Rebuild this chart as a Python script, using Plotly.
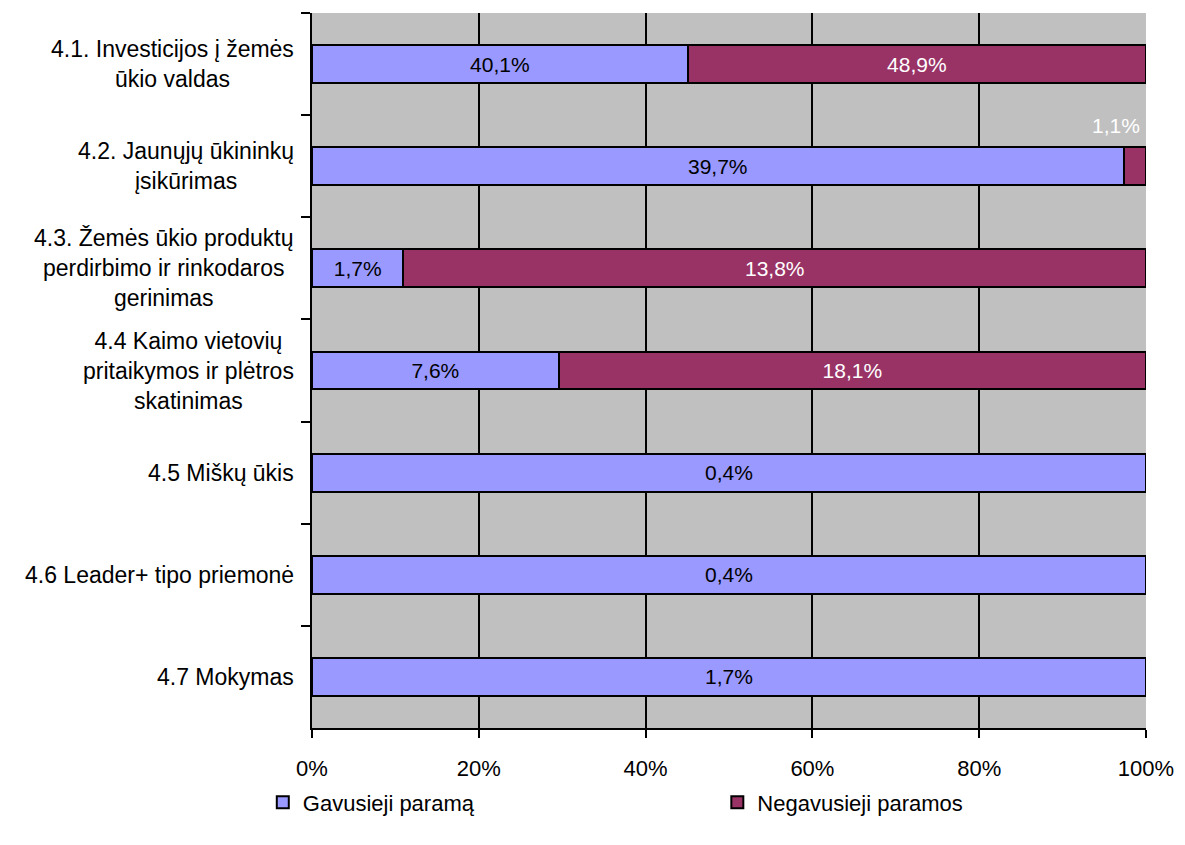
import plotly.graph_objects as go

categories = [
    "4.1. Investicijos į žemės<br>ūkio valdas",
    "4.2. Jaunųjų ūkininkų<br>įsikūrimas",
    "4.3. Žemės ūkio produktų<br>perdirbimo ir rinkodaros<br>gerinimas",
    "4.4 Kaimo vietovių<br>pritaikymos ir plėtros<br>skatinimas",
    "4.5 Miškų ūkis",
    "4.6 Leader+ tipo priemonė",
    "4.7 Mokymas",
]
gavusieji = [40.1, 39.7, 1.7, 7.6, 0.4, 0.4, 1.7]
negavusieji = [48.9, 1.1, 13.8, 18.1, 0.0, 0.0, 0.0]
series_names = ["Gavusieji paramą", "Negavusieji paramos"]
x_ticks = [0, 20, 40, 60, 80, 100]
x_tick_labels = ["0%", "20%", "40%", "60%", "80%", "100%"]

FONT = "Liberation Sans, Arial, sans-serif"
BLUE = "#9999FF"
MAROON = "#993366"


def fmt(v):
    return f"{v:.1f}%".replace(".", ",")


text_g = [fmt(v) if v > 0 else "" for v in gavusieji]
# labels that do not fit inside their segment are drawn above it
totals = [g + n for g, n in zip(gavusieji, negavusieji)]
small_n = [n > 0 and n / t < 0.05 for n, t in zip(negavusieji, totals)]
text_n = [fmt(v) if (v > 0 and not s) else "" for v, s in zip(negavusieji, small_n)]

fig = go.Figure()
fig.add_trace(go.Bar(
    y=categories, x=gavusieji, orientation="h", name=series_names[0],
    marker=dict(color=BLUE, line=dict(color="black", width=2)),
    text=text_g, textposition="inside", insidetextanchor="middle",
    textangle=0, constraintext="none",
    textfont=dict(color="black", size=21, family=FONT),
    legend="legend",
))
fig.add_trace(go.Bar(
    y=categories, x=negavusieji, orientation="h", name=series_names[1],
    marker=dict(color=MAROON, line=dict(color="black", width=2)),
    text=text_n, textposition="inside", insidetextanchor="middle",
    textangle=0, constraintext="none",
    textfont=dict(color="white", size=21, family=FONT),
    legend="legend2",
))

annotations = []
for cat, v, s in zip(categories, negavusieji, small_n):
    if s:
        annotations.append(dict(
            x=100, y=cat, xref="x", yref="y", text=fmt(v), showarrow=False,
            xanchor="right", yanchor="middle", yshift=41, xshift=-4,
            font=dict(color="white", size=21, family=FONT),
        ))
for cat in categories:
    annotations.append(dict(
        x=0, y=cat, xref="paper", yref="y", text=cat, showarrow=False,
        xanchor="right", yanchor="middle", xshift=-16, align="center",
        font=dict(color="black", size=23, family=FONT),
    ))

legend_common = dict(
    orientation="h", y=-0.104, xanchor="left", yanchor="middle",
    itemwidth=30, font=dict(size=22, family=FONT, color="black"),
    bgcolor="rgba(0,0,0,0)",
)

fig.update_layout(
    barmode="stack", barnorm="percent", bargap=0.63,
    width=1185, height=845,
    margin=dict(l=304, r=47, t=5, b=125),
    paper_bgcolor="white", plot_bgcolor="#C0C0C0",
    font=dict(family=FONT, size=20, color="black"),
    showlegend=True,
    legend=dict(x=-0.059, **legend_common),
    legend2=dict(x=0.486, **legend_common),
    annotations=annotations,
)
fig.update_xaxes(
    range=[0, 100], tickvals=x_ticks, ticktext=x_tick_labels,
    showgrid=True, gridcolor="black", gridwidth=1.5,
    showline=True, linecolor="black", linewidth=2,
    ticks="outside", ticklen=8, tickwidth=2, tickcolor="black",
    ticklabelstandoff=12, tickfont=dict(size=22, family=FONT),
    zeroline=False, fixedrange=True,
)
fig.update_yaxes(
    autorange="reversed", showticklabels=False,
    ticks="outside", tickson="boundaries", ticklen=9, tickwidth=2,
    tickcolor="black", showgrid=False,
    showline=True, linecolor="black", linewidth=2,
    zeroline=False,
)

fig.write_html("out.html")
